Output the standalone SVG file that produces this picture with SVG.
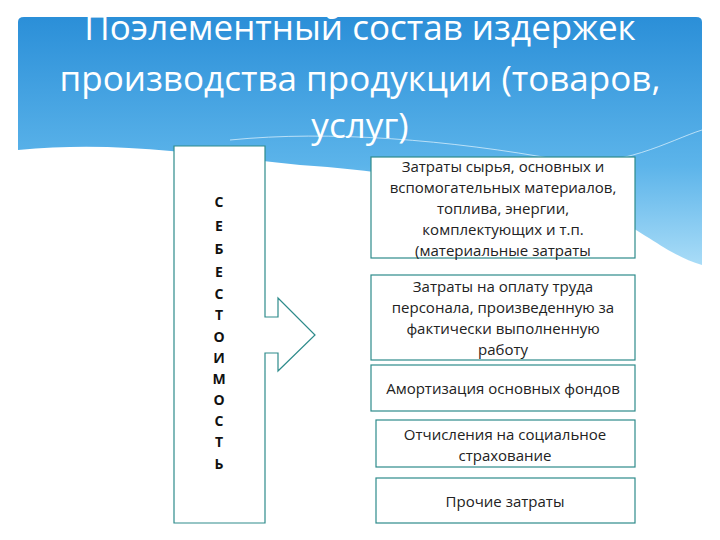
<svg xmlns="http://www.w3.org/2000/svg" width="720" height="540" viewBox="0 0 720 540">
<defs>
<linearGradient id="bg" x1="0" y1="0" x2="0" y2="1">
<stop offset="0" stop-color="#2b8fd8"/>
<stop offset="0.6" stop-color="#5cb4ea"/>
<stop offset="1" stop-color="#a9dcf7"/>
</linearGradient>
<style>
.box{fill:#fff;stroke:#2e8b8b;stroke-width:1.2}
.t{font-family:"Liberation Sans Narrow","Open Sans",sans-serif;font-size:15px;fill:#222;text-anchor:middle}
.v{font-family:"Open Sans",sans-serif;font-size:14px;font-weight:bold;fill:#111;text-anchor:middle}
.h{font-family:"Open Sans",sans-serif;font-size:35px;fill:#fff;text-anchor:middle}
</style>
</defs>
<rect width="720" height="540" fill="#fff"/>
<path d="M18,22 Q18,17 24,17 L696,17 Q702,17 702,22 L702,265 C650,250 620,200 520,190 C420,180 380,170 300,165 C200,155 120,140 18,150 Z" fill="url(#bg)"/>
<path d="M230,140 C330,130 450,140 560,160 C620,170 670,140 702,130" fill="none" stroke="#e6f5fd" stroke-width="1" opacity="0.7"/>
<g id="title">
<text class="h" x="360" y="40">Поэлементный состав издержек</text>
<text class="h" x="360" y="91">производства продукции (товаров,</text>
<text class="h" x="360" y="138">услуг)</text>
</g>
<g id="cost">
<path class="box" d="M174,146 L265,146 L265,317 L278,317 L278,298 L315,335 L278,371 L278,353 L265,353 L265,523 L174,523 Z"/>
<text class="v"><tspan x="219" y="207">С</tspan><tspan x="219" y="231">Е</tspan><tspan x="219" y="254">Б</tspan><tspan x="219" y="277">Е</tspan><tspan x="219" y="299">С</tspan><tspan x="219" y="320">Т</tspan><tspan x="219" y="342">О</tspan><tspan x="219" y="363">И</tspan><tspan x="219" y="384">М</tspan><tspan x="219" y="405">О</tspan><tspan x="219" y="426">С</tspan><tspan x="219" y="447">Т</tspan><tspan x="219" y="469">Ь</tspan></text>
</g>
<g id="n1"><rect class="box" x="371" y="157" width="264" height="101"/>
<text class="t"><tspan x="503" y="172">Затраты сырья, основных и</tspan><tspan x="503" y="193">вспомогательных материалов,</tspan><tspan x="503" y="214">топлива, энергии,</tspan><tspan x="503" y="235">комплектующих и т.п.</tspan><tspan x="503" y="256">(материальные затраты</tspan></text></g>
<g id="n2"><rect class="box" x="371" y="275" width="264" height="85"/>
<text class="t"><tspan x="503" y="292">Затраты на оплату труда</tspan><tspan x="503" y="313">персонала, произведенную за</tspan><tspan x="503" y="334">фактически выполненную</tspan><tspan x="503" y="355">работу</tspan></text></g>
<g id="n3"><rect class="box" x="371" y="365" width="264" height="46"/>
<text class="t" x="503" y="394">Амортизация основных фондов</text></g>
<g id="n4"><rect class="box" x="376" y="420" width="259" height="47"/>
<text class="t"><tspan x="505" y="440">Отчисления на социальное</tspan><tspan x="505" y="461">страхование</tspan></text></g>
<g id="n5"><rect class="box" x="376" y="478" width="259" height="45"/>
<text class="t" x="505" y="507">Прочие затраты</text></g>
<g id="connectors"/>
</svg>
